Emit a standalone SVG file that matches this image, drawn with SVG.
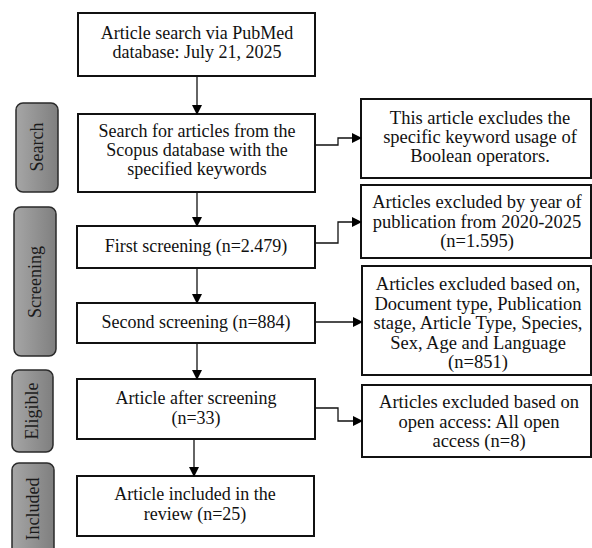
<svg xmlns="http://www.w3.org/2000/svg" width="592" height="548" viewBox="0 0 592 548">
<defs>
<linearGradient id="pillg" x1="0" y1="0" x2="1" y2="0">
<stop offset="0" stop-color="#a6a6a6"/>
<stop offset="1" stop-color="#7f7f7f"/>
</linearGradient>
<marker id="arr" markerWidth="10" markerHeight="10" refX="9" refY="5" orient="auto" markerUnits="userSpaceOnUse">
<path d="M0,0 L10,5 L0,10 Z" fill="#000"/>
</marker>
</defs>
<style>
.box{fill:#fff;stroke:#111;stroke-width:2}
.pill{fill:url(#pillg);stroke:#2a2a2a;stroke-width:1.5}
.t{font-family:"Liberation Serif","Times New Roman",serif;font-size:18px;fill:#111;text-anchor:middle}
.r{font-size:18.5px}
.pt{font-family:"Liberation Serif","Times New Roman",serif;font-size:18px;fill:#1a1a1a;text-anchor:middle}
.c{fill:none;stroke:#111;stroke-width:1.3;marker-end:url(#arr)}
</style>
<rect width="592" height="548" fill="#fff"/>

<g id="stage-search"><rect class="pill" x="16" y="103" width="42" height="89" rx="7"/><text class="pt" transform="translate(43,147) rotate(-90)">Search</text></g>
<g id="stage-screening"><rect class="pill" x="14" y="207" width="42" height="149" rx="7"/><text class="pt" transform="translate(41,282) rotate(-90)">Screening</text></g>
<g id="stage-eligible"><rect class="pill" x="12" y="370" width="41" height="82" rx="7"/><text class="pt" transform="translate(38,411) rotate(-90)">Eligible</text></g>
<g id="stage-included"><rect class="pill" x="12" y="463" width="42" height="100" rx="7"/><text class="pt" transform="translate(39,509) rotate(-90)">Included</text></g>

<g id="n1"><rect class="box" x="78" y="13" width="237" height="63"/><text class="t" x="197" y="39">Article search via PubMed</text><text class="t" x="197" y="58">database:  July 21, 2025</text></g>
<g id="n2"><rect class="box" x="78" y="114" width="237" height="78"/><text class="t" x="197" y="137">Search for articles from the</text><text class="t" x="197" y="156">Scopus database with the</text><text class="t" x="197" y="175">specified keywords</text></g>
<g id="n3"><rect class="box" x="77" y="226" width="238" height="42"/><text class="t" x="196" y="252">First screening (n=2.479)</text></g>
<g id="n4"><rect class="box" x="77" y="303" width="238" height="40"/><text class="t" x="196" y="328">Second screening (n=884)</text></g>
<g id="n5"><rect class="box" x="77" y="379" width="238" height="60"/><text class="t" x="196" y="404">Article after screening</text><text class="t" x="196" y="424">(n=33)</text></g>
<g id="n6"><rect class="box" x="77" y="476" width="237" height="60"/><text class="t" x="195" y="500">Article included in the</text><text class="t" x="195" y="520">review (n=25)</text></g>

<g id="r1"><rect class="box" x="361" y="99" width="230" height="79"/><text class="t r" x="480" y="124">This article excludes the</text><text class="t r" x="480" y="143">specific keyword usage of</text><text class="t r" x="480" y="162">Boolean operators.</text></g>
<g id="r2"><rect class="box" x="361" y="185" width="230" height="73"/><text class="t r" x="477" y="208">Articles excluded by year of</text><text class="t r" x="477" y="228">publication from 2020-2025</text><text class="t r" x="477" y="247">(n=1.595)</text></g>
<g id="r3"><rect class="box" x="362" y="266" width="229" height="109"/><text class="t r" x="478" y="290">Articles excluded based on,</text><text class="t r" x="478" y="309.5">Document type, Publication</text><text class="t r" x="478" y="329">stage, Article Type, Species,</text><text class="t r" x="478" y="348.5">Sex, Age and Language</text><text class="t r" x="478" y="368">(n=851)</text></g>
<g id="r4"><rect class="box" x="362" y="385" width="229" height="72"/><text class="t r" x="479" y="408">Articles excluded based on</text><text class="t r" x="479" y="428">open access: All open</text><text class="t r" x="479" y="447">access (n=8)</text></g>

<g id="connectors">
<path class="c" d="M197,76 V114"/>
<path class="c" d="M197,192 V226"/>
<path class="c" d="M197,268 V303"/>
<path class="c" d="M197,343 V379"/>
<path class="c" d="M194,439 V476"/>
<path class="c" d="M315,145 H338 V138 H361"/>
<path class="c" d="M315,243 H338 V222 H361"/>
<path class="c" d="M315,322 H362"/>
<path class="c" d="M315,408 H338 V421 H362"/>
</g>
</svg>
